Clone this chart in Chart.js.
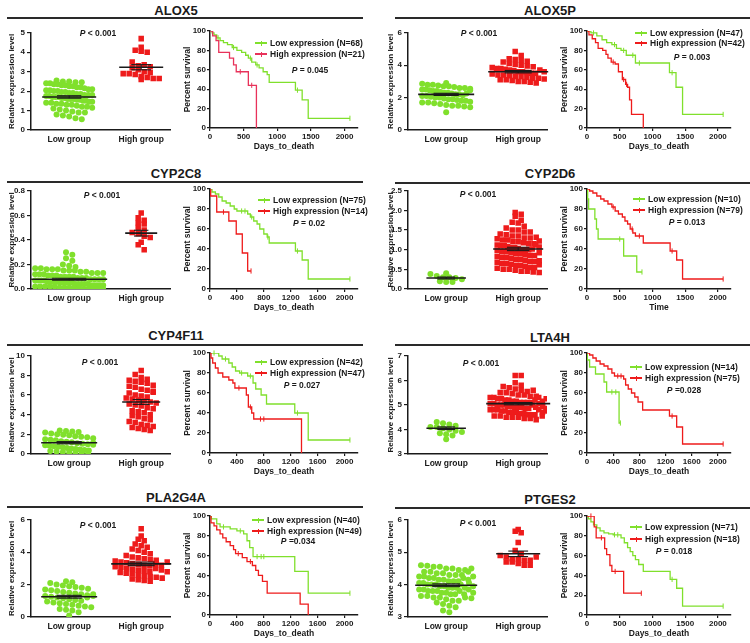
<!DOCTYPE html>
<html>
<head>
<meta charset="utf-8">
<script src="https://cdn.jsdelivr.net/npm/chart.js@4.4.1/dist/chart.umd.min.js"></script>
<style>
  body { margin: 0; background: #fff; }
  #fig { position: relative; width: 750px; height: 643px; overflow: hidden;
         font-family: "Liberation Sans", Arial, Helvetica, sans-serif; color: #1a1a1a; }
  .lbl { position: absolute; white-space: nowrap; font-weight: bold; line-height: 1; }
  .title { font-size: 13px; transform: translate(-50%, -50%); }
  .pv { font-size: 8.5px; transform: translate(-50%, -50%); }
  .leg { font-size: 8.5px; transform: translateY(-50%); }
  .rule { position: absolute; height: 2px; background: #2a2a2a; }
  .sw { position: absolute; }
  canvas { position: absolute; }
</style>
</head>
<body>
<div id="fig"></div>
<script>
// ---- data ----
const GENES = ["ALOX5", "ALOX5P", "CYP2C8", "CYP2D6", "CYP4F11", "LTA4H", "PLA2G4A", "PTGES2"];
const GROUPS = ["Low group", "High group"];

const ALOX5_LOW = [2.55,2.5,2.5,2.45,2.45,2.4,2.4,2.35,2.35,2.3,2.3,2.25,2.25,2.2,2.2,2.15,2.1,2.1,2.05,2.05,
  2.0,2.0,1.95,1.95,1.9,1.9,1.85,1.85,1.8,1.8,1.8,1.75,1.75,1.7,1.7,1.7,1.65,1.65,1.6,1.6,
  1.6,1.55,1.55,1.5,1.5,1.45,1.45,1.4,1.4,1.35,1.35,1.3,1.3,1.25,1.2,1.2,1.15,1.1,1.05,1.0,
  0.95,0.9,0.9,0.8,0.75,0.7,0.6,0.55];
const ALOX5_HIGH = [4.7,4.25,4.1,4.05,4.0,3.5,3.3,3.2,3.35,3.25,3.1,3.0,2.95,2.9,2.9,2.85,2.75,2.7,2.65,2.65,2.6];
const ALOX5P_LOW = [2.9,2.85,2.8,2.8,2.75,2.7,2.7,2.65,2.6,2.6,2.55,2.5,2.5,2.45,2.4,2.4,2.35,2.3,2.3,2.25,
  2.2,2.2,2.15,2.1,2.1,2.05,2.0,2.0,1.95,1.9,1.9,1.85,1.8,1.8,1.75,1.7,1.7,1.65,1.6,1.55,
  1.5,1.5,1.45,1.4,2.25,2.45,1.1];
const ALOX5P_HIGH = [4.85,4.6,4.4,4.35,4.3,4.25,4.2,4.1,4.05,4.0,3.95,3.9,3.85,3.8,3.8,3.75,3.7,3.65,3.6,3.6,
  3.55,3.5,3.5,3.45,3.4,3.4,3.35,3.3,3.3,3.25,3.2,3.2,3.15,3.1,3.1,3.05,3.0,3.0,2.95,2.9,3.7,3.6];
const CYP2C8_LOW = [0.3,0.28,0.25,0.23,0.2,0.19,0.18,0.17,0.17,0.16,0.16,0.16,0.15,0.15,0.15,0.14,0.14,0.13,0.13,0.13,
  0.12,0.12,0.12,0.11,0.11,0.11,0.1,0.1,0.1,0.1,0.09,0.09,0.09,0.08,0.08,0.08,0.08,0.07,0.07,0.07,
  0.07,0.06,0.06,0.06,0.06,0.05,0.05,0.05,0.05,0.05,0.04,0.04,0.04,0.04,0.04,0.03,0.03,0.03,0.03,0.03,
  0.02,0.02,0.02,0.02,0.02,0.01,0.01,0.01,0.01,0.01,0.0,0.0,0.0,0.0,0.0];
const CYP2C8_HIGH = [0.62,0.58,0.56,0.54,0.53,0.5,0.48,0.46,0.45,0.43,0.42,0.38,0.36,0.32];
const CYP2D6_LOW = [0.4,0.38,0.33,0.3,0.3,0.28,0.25,0.2,0.18,0.18];
const CYP2D6_HIGH = [1.95,1.9,1.85,1.75,1.7,1.68,1.6,1.55,1.5,1.5,1.45,1.45,1.4,1.38,1.35,1.35,1.3,1.3,1.28,1.25,
  1.25,1.2,1.2,1.18,1.15,1.15,1.12,1.1,1.1,1.08,1.05,1.05,1.03,1.0,1.0,1.0,0.98,0.95,0.95,0.93,
  0.9,0.9,0.88,0.85,0.85,0.83,0.8,0.8,0.78,0.75,0.75,0.73,0.7,0.7,0.68,0.65,0.65,0.63,0.6,0.6,
  0.58,0.55,0.55,0.53,0.5,0.5,0.48,0.45,0.45,0.43,0.42,1.02,1.12,0.92,1.32,0.72,1.22,0.62,1.07];
const CYP4F11_LOW = [2.4,2.35,2.3,2.25,2.2,2.1,2.0,1.95,1.9,1.8,1.75,1.7,1.6,1.5,1.45,1.4,1.3,1.25,1.2,1.1,
  1.05,1.0,0.9,0.85,0.8,0.75,0.7,0.6,0.55,0.5,0.45,0.4,0.35,0.3,0.25,0.2,0.15,0.1,0.05,0.0,1.15,0.95];
const CYP4F11_HIGH = [8.5,8.1,7.8,7.6,7.5,7.4,7.3,7.2,7.0,6.9,6.8,6.6,6.5,6.4,6.2,6.0,5.9,5.7,5.6,5.5,
  5.4,5.3,5.2,5.1,5.0,4.9,4.7,4.6,4.4,4.3,4.2,4.0,3.9,3.8,3.6,3.5,3.3,3.2,3.0,2.9,2.8,2.7,2.6,2.5,2.4,5.8,6.3];
const LTA4H_LOW = [4.3,4.25,4.2,4.15,4.1,4.1,4.05,4.0,3.95,3.9,3.85,3.8,3.75,3.6];
const LTA4H_HIGH = [6.2,6.2,5.9,5.8,5.75,5.7,5.65,5.6,5.55,5.5,5.5,5.45,5.4,5.4,5.35,5.35,5.3,5.3,5.25,5.25,
  5.2,5.2,5.15,5.15,5.1,5.1,5.1,5.05,5.05,5.0,5.0,5.0,4.95,4.95,4.9,4.9,4.9,4.85,4.85,4.8,
  4.8,4.8,4.75,4.75,4.7,4.7,4.7,4.65,4.65,4.6,4.6,4.6,4.55,4.55,4.5,4.5,4.5,4.45,4.45,4.4,
  5.0,5.1,4.9,5.2,4.8,5.3,4.7,5.05,4.95,5.15,4.85,5.25,4.75,5.6,4.55];
const PLA2G4A_LOW = [2.2,2.15,2.1,2.0,1.95,1.9,1.85,1.8,1.75,1.7,1.65,1.6,1.55,1.5,1.45,1.4,1.35,1.3,1.25,1.2,
  1.15,1.1,1.05,1.0,0.95,0.9,0.85,0.8,0.75,0.7,0.65,0.6,0.5,0.45,0.4,0.3,0.1,1.2,1.3,1.4];
const PLA2G4A_HIGH = [5.45,5.0,4.8,4.7,4.5,4.4,4.3,4.2,4.1,4.0,3.9,3.8,3.7,3.65,3.6,3.55,3.5,3.45,3.4,3.35,
  3.3,3.25,3.2,3.15,3.1,3.05,3.0,2.95,2.9,2.85,2.8,2.75,2.7,2.65,2.6,2.55,2.5,2.45,2.4,2.35,
  2.3,2.25,2.2,3.3,3.2,3.0,2.9,2.8,3.4];
const PTGES2_LOW = [4.6,4.58,4.55,4.55,4.5,4.5,4.45,4.45,4.4,4.4,4.35,4.35,4.3,4.3,4.25,4.25,4.2,4.2,4.15,4.15,
  4.1,4.1,4.05,4.05,4.0,4.0,4.0,3.95,3.95,3.9,3.9,3.9,3.85,3.85,3.8,3.8,3.8,3.75,3.75,3.7,
  3.7,3.65,3.65,3.6,3.6,3.55,3.5,3.5,3.45,3.4,3.35,3.3,3.2,3.15,4.0,4.1,3.9,4.2,3.8,4.3,
  3.7,4.4,3.6,4.5,4.05,3.95,4.15,3.85,4.25,3.75,3.58];
const PTGES2_HIGH = [5.7,5.65,5.6,5.3,5.05,4.95,4.9,4.85,4.8,4.8,4.75,4.75,4.7,4.7,4.65,4.6,4.6,4.85];

const MEAN_LOW = [1.7, 2.2, 0.08, 0.28, 1.15, 4.05, 1.25, 3.98];
const MEAN_HIGH = [3.23, 3.6, 0.455, 1.02, 5.3, 5.05, 3.28, 4.95];

const EXPR_TICKS = [[0,1,2,3,4,5], [0,2,4,6], [0,0.2,0.4,0.6,0.8], [0,0.5,1,1.5,2,2.5],
  [0,2,4,6,8,10], [3,4,5,6,7], [0,2,4,6], [3,4,5,6]];
const EXPR_DECIMALS = [0, 0, 1, 1, 0, 0, 0, 0];

// survival steps [day, percent], curve ends at last censored case
const ALOX5_KM_LOW = [[0,100],[30,98],[60,96],[100,93],[150,90],[200,88],[260,86],[330,83],[400,80],[470,78],[530,75],[570,72],[620,68],[680,65],[730,62],[790,58],[850,55],[880,47],[1270,39],[1370,29],[1460,10],[2080,10]];
const ALOX5_CENS_LOW = [[120,93],[350,83],[600,72],[700,65],[1300,39],[2080,10]];
const ALOX5_KM_HIGH = [[0,100],[40,95],[90,90],[130,78],[290,72],[350,65],[390,58],[570,44],[690,0]];
const ALOX5_CENS_HIGH = [[450,58],[620,44]];

const ALOX5P_KM_LOW = [[0,100],[60,98],[150,95],[230,91],[300,88],[380,86],[450,82],[520,80],[600,75],[740,67],[1260,57],[1360,42],[1460,14],[2080,14]];
const ALOX5P_CENS_LOW = [[100,98],[420,86],[560,80],[700,75],[800,67],[1300,57],[2080,14]];
const ALOX5P_KM_HIGH = [[0,100],[30,96],[80,92],[130,88],[170,82],[240,80],[290,76],[320,72],[370,68],[430,66],[480,58],[540,50],[590,45],[620,42],[650,29],[680,14],[860,0]];
const ALOX5P_CENS_HIGH = [[400,68],[560,50],[605,45]];

const CYP2C8_KM_LOW = [[0,100],[30,97],[80,95],[130,92],[180,88],[240,86],[300,83],[360,80],[400,78],[560,75],[600,72],[650,68],[700,65],[740,60],[800,55],[850,52],[880,46],[1270,38],[1370,29],[1460,10],[2080,10]];
const CYP2C8_CENS_LOW = [[470,78],[520,78],[620,72],[860,52],[1300,38],[2080,10]];
const CYP2C8_KM_HIGH = [[0,100],[10,93],[100,77],[280,68],[390,55],[480,36],[560,18],[610,18]];
const CYP2C8_CENS_HIGH = [[200,77],[610,18]];

const CYP2D6_KM_LOW = [[0,100],[10,90],[25,80],[120,70],[145,60],[170,50],[560,33],[760,17],[840,17]];
const CYP2D6_CENS_LOW = [[500,50],[840,17]];
const CYP2D6_KM_HIGH = [[0,100],[40,98],[90,96],[150,93],[210,90],[260,88],[320,85],[380,82],[430,78],[480,75],[540,72],[580,68],[620,65],[660,60],[700,56],[740,53],[860,46],[1270,38],[1370,29],[1460,10],[2080,10]];
const CYP2D6_CENS_HIGH = [[400,82],[690,60],[800,53],[1300,38],[2080,10]];

const CYP4F11_KM_LOW = [[0,100],[130,97],[180,94],[280,90],[330,86],[380,82],[440,80],[560,77],[640,70],[680,64],[760,58],[840,49],[1260,40],[1460,13],[2080,13]];
const CYP4F11_CENS_LOW = [[60,100],[230,94],[470,80],[600,77],[1300,40],[2080,13]];
const CYP4F11_KM_HIGH = [[0,100],[15,95],[40,90],[80,85],[120,80],[190,76],[280,73],[340,70],[370,65],[540,58],[570,46],[620,40],[650,34],[1360,0]];
const CYP4F11_CENS_HIGH = [[430,65],[600,46],[750,34],[800,34]];

const LTA4H_KM_LOW = [[0,100],[5,93],[40,86],[130,79],[260,71],[300,61],[490,30],[510,30]];
const LTA4H_CENS_LOW = [[380,61],[440,61],[510,30]];
const LTA4H_KM_HIGH = [[0,100],[40,98],[90,95],[140,92],[200,89],[260,87],[320,84],[380,80],[420,77],[560,74],[590,68],[630,64],[680,60],[730,56],[780,51],[850,43],[1260,37],[1370,26],[1460,9],[2080,9]];
const LTA4H_CENS_HIGH = [[470,77],[520,77],[1300,37],[2080,9]];

const PLA2G4A_KM_LOW = [[0,100],[20,97],[100,92],[150,89],[300,87],[400,85],[500,82],[550,75],[590,68],[640,59],[1260,44],[1460,22],[2080,22]];
const PLA2G4A_CENS_LOW = [[200,89],[450,85],[700,59],[760,59],[800,59],[2080,22]];
const PLA2G4A_KM_HIGH = [[0,100],[15,93],[60,90],[100,86],[150,82],[190,78],[240,74],[300,70],[350,66],[380,62],[480,58],[550,54],[630,50],[680,45],[720,40],[780,34],[850,22],[1340,11],[1460,0]];
const PLA2G4A_CENS_HIGH = [[420,62],[600,54]];

const PTGES2_KM_LOW = [[0,100],[20,97],[60,94],[100,91],[150,88],[200,85],[260,83],[330,82],[400,81],[520,78],[570,73],[620,68],[660,64],[700,60],[740,56],[790,51],[860,44],[1270,36],[1370,27],[1460,9],[2080,9]];
const PTGES2_CENS_LOW = [[420,81],[470,81],[1300,36],[2080,9]];
const PTGES2_KM_HIGH = [[0,100],[110,89],[140,78],[270,67],[300,61],[350,50],[380,44],[560,22],[830,22]];
const PTGES2_CENS_HIGH = [[60,100],[220,78],[430,44],[830,22]];

const N_LOW = [68, 47, 75, 10, 42, 14, 40, 71];
const N_HIGH = [21, 42, 14, 79, 47, 75, 49, 18];
const P_KM = ["= 0.045", "= 0.003", "= 0.02", "= 0.013", "= 0.027", "=0.028", "=0.034", "= 0.018"];
const P_EXPR = "< 0.001";
const KM_TICKS = [[0,500,1000,1500,2000], [0,500,1000,1500,2000], [0,400,800,1200,1600,2000], [0,500,1000,1500,2000],
  [0,400,800,1200,1600,2000], [0,400,800,1200,1600,2000], [0,400,800,1200,1600,2000], [0,500,1000,1500,2000]];
const KM_Y_TICKS = [0, 20, 40, 60, 80, 100];
const KM_X_TITLE = ["Days_to_death", "Days_to_death", "Days_to_death", "Time", "Days_to_death", "Days_to_death", "Days_to_death", "Days_to_death"];

const EXPR_LOW = [ALOX5_LOW, ALOX5P_LOW, CYP2C8_LOW, CYP2D6_LOW, CYP4F11_LOW, LTA4H_LOW, PLA2G4A_LOW, PTGES2_LOW];
const EXPR_HIGH = [ALOX5_HIGH, ALOX5P_HIGH, CYP2C8_HIGH, CYP2D6_HIGH, CYP4F11_HIGH, LTA4H_HIGH, PLA2G4A_HIGH, PTGES2_HIGH];
const KM_LOW = [ALOX5_KM_LOW, ALOX5P_KM_LOW, CYP2C8_KM_LOW, CYP2D6_KM_LOW, CYP4F11_KM_LOW, LTA4H_KM_LOW, PLA2G4A_KM_LOW, PTGES2_KM_LOW];
const KM_HIGH = [ALOX5_KM_HIGH, ALOX5P_KM_HIGH, CYP2C8_KM_HIGH, CYP2D6_KM_HIGH, CYP4F11_KM_HIGH, LTA4H_KM_HIGH, PLA2G4A_KM_HIGH, PTGES2_KM_HIGH];
const CENS_LOW = [ALOX5_CENS_LOW, ALOX5P_CENS_LOW, CYP2C8_CENS_LOW, CYP2D6_CENS_LOW, CYP4F11_CENS_LOW, LTA4H_CENS_LOW, PLA2G4A_CENS_LOW, PTGES2_CENS_LOW];
const CENS_HIGH = [ALOX5_CENS_HIGH, ALOX5P_CENS_HIGH, CYP2C8_CENS_HIGH, CYP2D6_CENS_HIGH, CYP4F11_CENS_HIGH, LTA4H_CENS_HIGH, PLA2G4A_CENS_HIGH, PTGES2_CENS_HIGH];

// ---- layout / style ----
const GREEN = "#80e02c";
const RED = "#ee1b1b";
const INK = "#1a1a1a";
const KM_RED = [ "#e8325a", RED, RED, RED, RED, RED, RED, RED ];

const SC_X = [[31, 170], [408, 547]];          // scatter plot area left/right per column
const SC_Y = [[32, 130], [190, 289], [355, 454], [519, 617]];
const KM_X = [[210, 358], [587, 731]];
const KM_Y = [[31, 128], [189, 289], [353, 453], [516, 615]];
const X_MIN = -0.53, X_MAX = 1.4, KM_MAX = 2200;
const TITLE_POS = [[176,10],[550,10],[176,173],[550,173],[176,335],[550,337],[176,497],[550,499]];
const RULE_POS = [[7,17],[395,17],[7,181],[395,182],[7,344],[395,344],[7,506],[395,507]];
const PSC_POS = [[98,33],[479,33],[102,195],[478,194],[100,362],[481,363],[98,525],[478,523]];
const PKM_POS = [[310,70],[692,57],[309,223],[687,222],[302,385],[684,390],[298,541],[674,551]];
const LEG_POS = [[255,43,54],[635,33,43],[258,200,211],[633,199,210],[255,362,373],[630,367,378],[252,520,531],[630,527,539]];
const SWARM_CAP = [[23,27],[24,26],[34,20],[16,21],[24,26],[18,28],[24,26],[27,22]];

Chart.defaults.font.family = '"Liberation Sans", Arial, Helvetica, sans-serif';
Chart.defaults.font.weight = "bold";
Chart.defaults.font.size = 8;
Chart.defaults.color = INK;

const fig = document.getElementById("fig");

function put(html, cls, x, y) {
  const d = document.createElement("div");
  d.className = "lbl " + cls;
  d.innerHTML = html;
  d.style.left = x + "px";
  d.style.top = y + "px";
  fig.appendChild(d);
  return d;
}

function box(cls, x, y, w, h, color) {
  const d = document.createElement("div");
  d.className = cls;
  Object.assign(d.style, { left: x + "px", top: y + "px", width: w + "px", height: h + "px" });
  if (color) d.style.background = color;
  fig.appendChild(d);
}

function makeCanvas(x, y, w, h) {
  const c = document.createElement("canvas");
  c.width = w; c.height = h;
  Object.assign(c.style, { left: x + "px", top: y + "px", width: w + "px", height: h + "px" });
  fig.appendChild(c);
  return c;
}

// Prism-like column scatter: bin values into rows, spread each row sideways
function rowOffsets(pix, d, cap) {
  const rows = {};
  pix.forEach((p, k) => {
    const r = Math.round(p / d);
    (rows[r] = rows[r] || []).push(k);
  });
  const offs = new Array(pix.length).fill(0);
  Object.values(rows).forEach((ks) => {
    const n = ks.length;
    const step = n > 1 ? Math.min(d, (2 * cap) / (n - 1)) : 0;
    ks.forEach((k, j) => { offs[k] = (j - (n - 1) / 2) * step; });
  });
  return offs;
}

function sem(vals) {
  const m = vals.reduce((a, b) => a + b, 0) / vals.length;
  const v = vals.reduce((a, b) => a + (b - m) * (b - m), 0) / (vals.length - 1);
  return Math.sqrt(v / vals.length);
}

function seg(x1, y1, x2, y2, w) {
  return { data: [{ x: x1, y: y1 }, { x: x2, y: y2 }], showLine: true, borderColor: INK,
           borderWidth: w, pointRadius: 0, clip: false };
}

const baseOpts = {
  responsive: false, animation: false, events: [],
  plugins: { legend: { display: false }, tooltip: { enabled: false } },
};

function scatterPanel(i) {
  const col = i % 2, row = Math.floor(i / 2);
  const [pl, pr] = SC_X[col];
  const [pt, pb] = SC_Y[row];
  const ticks = EXPR_TICKS[i];
  const ymin = ticks[0], ymax = ticks[ticks.length - 1];
  const pxY = (pb - pt) / (ymax - ymin);
  const pxX = (pr - pl) / (X_MAX - X_MIN);
  const YW = 31, PT = 6, PR = 4, XH = 18;

  const marks = [];
  const dots = [];
  [EXPR_LOW[i], EXPR_HIGH[i]].forEach((vals, g) => {
    const d = g === 0 ? 6.3 : 6;
    const offs = rowOffsets(vals.map((v) => (v - ymin) * pxY), d, SWARM_CAP[i][g]);
    const hw = Math.max(16, Math.max(...offs.map(Math.abs)) + 4) / pxX;
    const m = g === 0 ? MEAN_LOW[i] : MEAN_HIGH[i];
    const s = sem(vals);
    marks.push(seg(g - hw, m, g + hw, m, 1.6));
    marks.push(seg(g - hw * 0.45, m + s, g + hw * 0.45, m + s, 1.1));
    marks.push(seg(g - hw * 0.45, m - s, g + hw * 0.45, m - s, 1.1));
    marks.push(seg(g, m - s, g, m + s, 1.1));
    dots.push({
      data: vals.map((v, k) => ({ x: g + offs[k] / pxX, y: v })),
      pointStyle: g === 0 ? "circle" : "rect",
      pointRadius: g === 0 ? 3 : 3.9,
      pointBackgroundColor: g === 0 ? GREEN : RED,
      pointBorderWidth: 0,
      showLine: false,
    });
  });

  const c = makeCanvas(pl - YW, pt - PT, pr - pl + YW + PR, pb - pt + PT + XH);
  new Chart(c, {
    type: "scatter",
    data: { datasets: marks.concat(dots) },
    options: Object.assign({}, baseOpts, {
      layout: { padding: { top: PT, right: PR, left: 0, bottom: 0 } },
      scales: {
        x: {
          type: "linear", min: X_MIN, max: X_MAX,
          afterFit: (s) => { s.height = XH; },
          afterBuildTicks: (s) => { s.ticks = [{ value: 0 }, { value: 1 }]; },
          ticks: { callback: (v, k) => GROUPS[k], maxRotation: 0, autoSkip: false, padding: 5, font: { size: 8.5 } },
          grid: { display: false, drawTicks: false },
          border: { color: INK, width: 1.5 },
        },
        y: {
          min: ymin, max: ymax,
          afterFit: (s) => { s.width = YW; },
          afterBuildTicks: (s) => { s.ticks = ticks.map((v) => ({ value: v })); },
          ticks: { callback: (v) => Number(v).toFixed(EXPR_DECIMALS[i]), padding: 2, font: { size: 8 } },
          grid: { drawOnChartArea: false, drawTicks: true, tickLength: 4, color: INK, lineWidth: 1.2 },
          border: { color: INK, width: 1.5 },
          title: { display: true, text: "Relative expression level", font: { size: 8 },
                   padding: { top: col === 0 ? 7 : 9, bottom: 0 } },
        },
      },
    }),
  });
}

function kmPanel(i) {
  const col = i % 2, row = Math.floor(i / 2);
  const [pl, pr] = KM_X[col];
  const [pt, pb] = KM_Y[row];
  const YW = 30, PT = 6, PR = 6, XH = 26;
  const xy = (arr) => arr.map(([t, s]) => ({ x: t, y: s }));
  const curve = (arr, color) => ({ data: xy(arr), showLine: true, stepped: true, borderColor: color,
                                   borderWidth: 1.3, pointRadius: 0 });
  const cens = (arr, color) => ({ data: xy(arr), showLine: false, pointStyle: "line", pointRotation: 90,
                                  pointRadius: 2.6, pointBorderColor: color, pointBorderWidth: 1, clip: false });
  const red = KM_RED[i];

  const c = makeCanvas(pl - YW, pt - PT, pr - pl + YW + PR, pb - pt + PT + XH);
  new Chart(c, {
    type: "scatter",
    data: { datasets: [
      curve(KM_HIGH[i], red), cens(CENS_HIGH[i], red),
      curve(KM_LOW[i], GREEN), cens(CENS_LOW[i], GREEN),
    ] },
    options: Object.assign({}, baseOpts, {
      layout: { padding: { top: PT, right: PR, left: 0, bottom: 0 } },
      scales: {
        x: {
          type: "linear", min: 0, max: KM_MAX,
          afterFit: (s) => { s.height = XH; },
          afterBuildTicks: (s) => { s.ticks = KM_TICKS[i].map((v) => ({ value: v })); },
          ticks: { callback: (v) => String(v), maxRotation: 0, autoSkip: false, padding: 1, font: { size: 8 } },
          grid: { drawOnChartArea: false, drawTicks: true, tickLength: 3, color: INK, lineWidth: 1.2 },
          border: { color: INK, width: 1.5 },
          title: { display: true, text: KM_X_TITLE[i], font: { size: 8.5 }, padding: { top: 0, bottom: 2 } },
        },
        y: {
          min: 0, max: 100,
          afterFit: (s) => { s.width = YW; },
          afterBuildTicks: (s) => { s.ticks = KM_Y_TICKS.map((v) => ({ value: v })); },
          ticks: { callback: (v) => String(v), padding: 1, font: { size: 8 } },
          grid: { drawOnChartArea: false, drawTicks: true, tickLength: 3, color: INK, lineWidth: 1.2 },
          border: { color: INK, width: 1.5 },
          title: { display: true, text: "Percent survival", font: { size: 8.5 }, padding: { top: 3, bottom: 0 } },
        },
      },
    }),
  });

  // legend
  const [lx, ly1, ly2] = LEG_POS[i];
  [[ly1, GREEN, "Low expression (N=" + N_LOW[i] + ")"], [ly2, red, "High expression (N=" + N_HIGH[i] + ")"]]
    .forEach(([y, color, text]) => {
      box("sw", lx, y - 0.75, 12, 1.5, color);
      box("sw", lx + 6, y - 2.5, 1, 5, color);
      put(text, "leg", lx + 15, y);
    });
  put("<i>P</i> " + P_KM[i], "pv", PKM_POS[i][0], PKM_POS[i][1]);
}

GENES.forEach((gene, i) => {
  put(gene, "title", TITLE_POS[i][0], TITLE_POS[i][1]);
  box("rule", RULE_POS[i][0], RULE_POS[i][1], 356, 2);
  scatterPanel(i);
  kmPanel(i);
  put("<i>P</i> " + P_EXPR, "pv", PSC_POS[i][0], PSC_POS[i][1]);
});
</script>
</body>
</html>
